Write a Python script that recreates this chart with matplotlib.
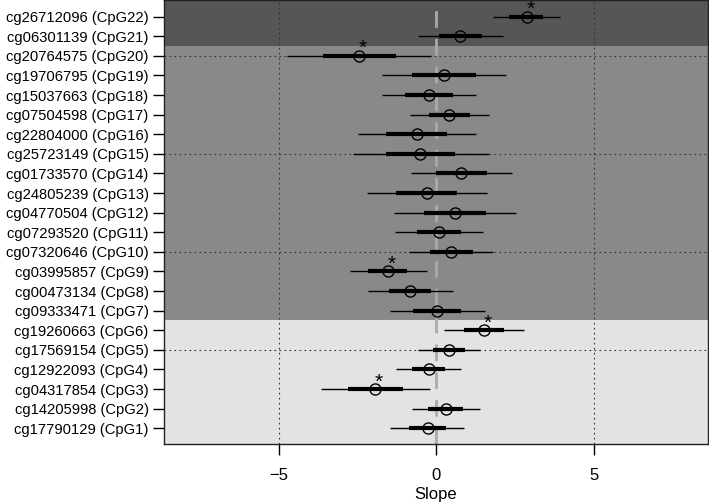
import numpy as np
import matplotlib.pyplot as plt

plt.rcParams['font.family'] = ['Liberation Sans', 'DejaVu Sans']

# CpG sites, bottom (CpG1) to top (CpG22)
probes = ["cg17790129", "cg14205998", "cg04317854", "cg12922093", "cg17569154",
          "cg19260663", "cg09333471", "cg00473134", "cg03995857", "cg07320646",
          "cg07293520", "cg04770504", "cg24805239", "cg01733570", "cg25723149",
          "cg22804000", "cg07504598", "cg15037663", "cg19706795", "cg20764575",
          "cg06301139", "cg26712096"]
labels = [f"{p} (CpG{i + 1})" for i, p in enumerate(probes)]

slope = [-0.27, 0.30, -1.94, -0.24, 0.40, 1.51, 0.02, -0.83, -1.52, 0.47, 0.08,
         0.59, -0.30, 0.80, -0.50, -0.61, 0.42, -0.23, 0.25, -2.45, 0.77, 2.87]
inner_lo = [-0.87, -0.25, -2.79, -0.76, -0.10, 0.89, -0.73, -1.49, -2.16, -0.20, -0.62,
            -0.39, -1.26, -0.01, -1.58, -1.58, -0.22, -0.99, -0.76, -3.59, 0.09, 2.32]
inner_hi = [0.31, 0.86, -1.05, 0.28, 0.91, 2.16, 0.79, -0.15, -0.91, 1.16, 0.78,
            1.58, 0.67, 1.62, 0.61, 0.33, 1.07, 0.54, 1.26, -1.29, 1.46, 3.40]
outer_lo = [-1.45, -0.78, -3.66, -1.28, -0.57, 0.25, -1.47, -2.16, -2.74, -0.86, -1.31,
            -1.34, -2.19, -0.81, -2.63, -2.48, -0.83, -1.73, -1.73, -4.73, -0.57, 1.81]
outer_hi = [0.89, 1.38, -0.19, 0.79, 1.40, 2.79, 1.54, 0.54, -0.30, 1.80, 1.48,
            2.52, 1.60, 2.41, 1.67, 1.26, 1.67, 1.27, 2.23, -0.15, 2.13, 3.93]
signif = [3, 6, 9, 20, 22]

# background bands (row boundaries)
bands = [(0.0, 6.5, "#e3e3e3"), (6.5, 20.5, "#898989"), (20.5, 23.5, "#565656")]

y = np.arange(1, len(probes) + 1)

fig = plt.figure(figsize=(7.09, 5.04), dpi=100)
ax = fig.add_axes([0.231, 0.1185, 0.767, 0.8815])

for lo, hi, col in bands:
    ax.axhspan(lo, hi, color=col, zorder=0, lw=0)

for gx in [-5, 5]:
    ax.axvline(gx, color="#333333", ls=(0, (1.5, 3)), lw=0.8, zorder=1)
for gy in [5, 10, 15, 20]:
    ax.axhline(gy, color="#333333", ls=(0, (1.5, 3)), lw=0.8, zorder=1)
ax.axvline(0, color="#aaaaaa", ls=(0, (6, 4)), lw=2, zorder=1)

ax.hlines(y, outer_lo, outer_hi, color="black", lw=1, zorder=2)
ax.hlines(y, inner_lo, inner_hi, color="black", lw=3, zorder=2)
ax.plot(slope, y, "o", ms=8, mfc="none", mec="black", mew=1, zorder=3)

for k in signif:
    ax.text(slope[k - 1] + 0.12, k + 0.08, "*", ha="center", va="baseline",
            fontsize=15, zorder=4, clip_on=False)

ax.set_xlim(-8.65, 8.62)
ax.set_ylim(0.18, 22.85)
ax.set_yticks(y)
ax.set_yticklabels(labels, fontsize=10.6)
ax.set_xticks([-5, 0, 5])
ax.set_xticklabels(["\u22125", "0", "5"], fontsize=12)
ax.tick_params(axis="both", direction="out", length=8, width=1)
ax.tick_params(axis="y", pad=3)
ax.tick_params(axis="x", pad=9)
ax.set_xlabel("Slope", fontsize=12, labelpad=3)
for s in ax.spines.values():
    s.set_linewidth(1)
    s.set_color("#222222")

fig.savefig("out.png", dpi=100)
